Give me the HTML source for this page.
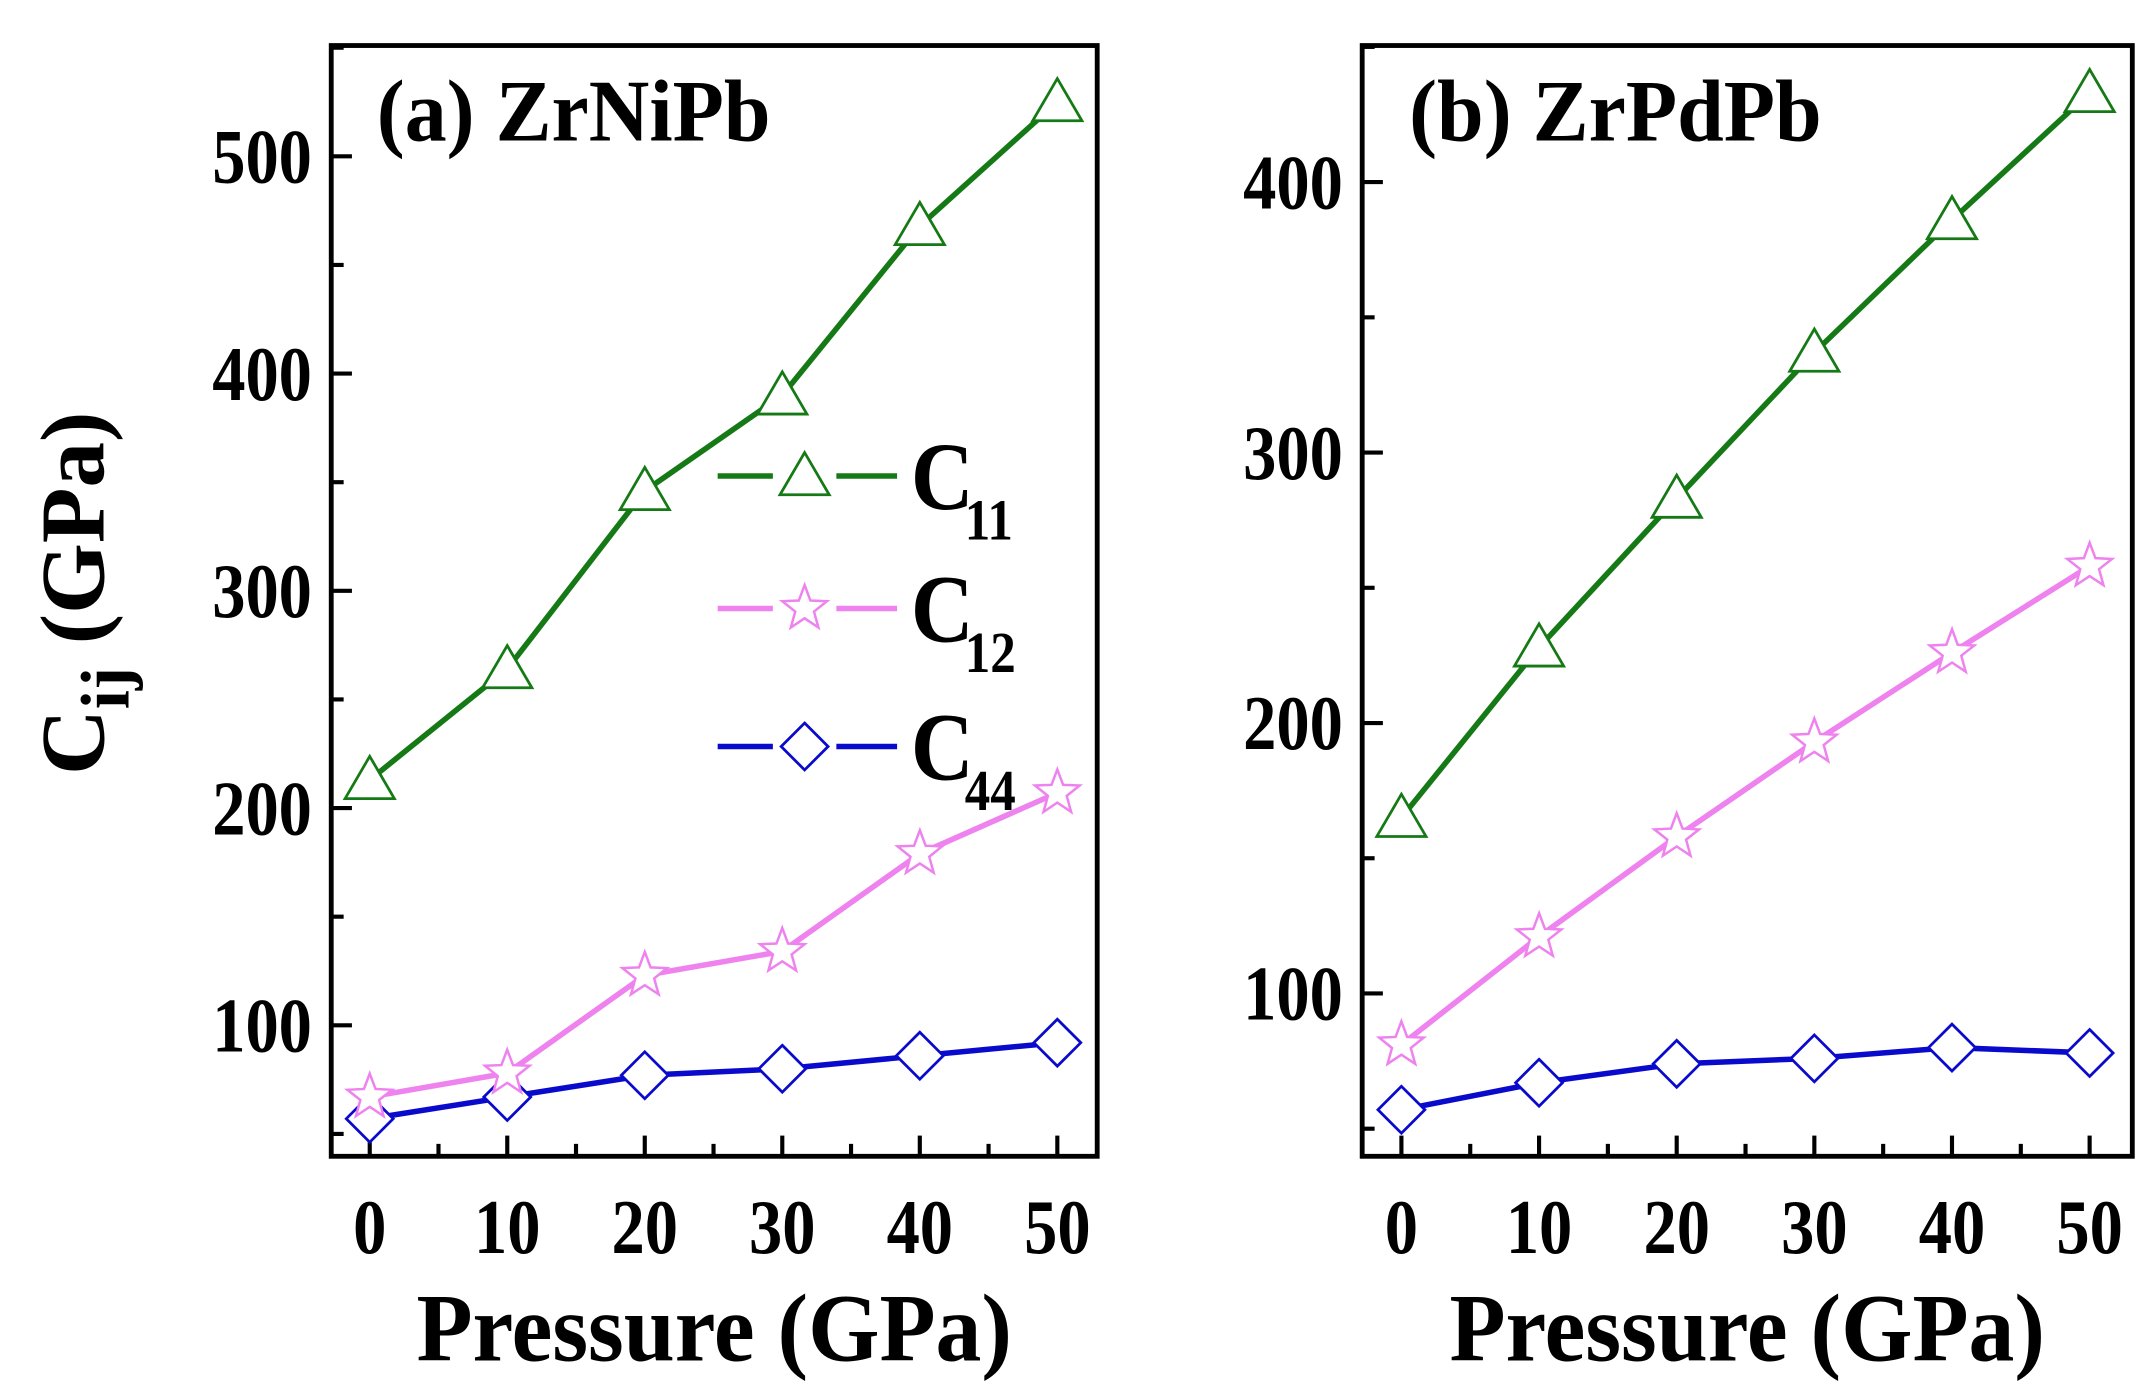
<!DOCTYPE html>
<html><head><meta charset="utf-8"><style>
html,body{margin:0;padding:0;background:#fff;}
svg{display:block;font-family:"Liberation Serif",serif;font-weight:bold;}
</style></head><body>
<svg id="chart" width="2153" height="1395" viewBox="0 0 1560 1011" preserveAspectRatio="none" xmlns="http://www.w3.org/2000/svg"></svg>
<script>
const pressures = [0, 10, 20, 30, 40, 50];
const aC11 = [213, 264, 346, 390, 468, 525];
const aC12 = [67, 78, 123, 134, 179, 207];
const aC44 = [57, 67, 77, 80, 86, 92];
const bC11 = [165, 228, 283, 337, 386, 433];
const bC12 = [81, 121, 158, 193, 226, 258];
const bC44 = [57, 67, 74, 76, 80, 78];
const xTicks = [0, 10, 20, 30, 40, 50];
const aYTicks = [100, 200, 300, 400, 500];
const bYTicks = [100, 200, 300, 400];

const NS = "http://www.w3.org/2000/svg";
const svg = document.getElementById('chart');
function mk(tag, attrs, parent, text) {
  const e = document.createElementNS(NS, tag);
  for (const k in attrs) e.setAttribute(k, attrs[k]);
  if (text !== undefined) e.textContent = text;
  (parent || svg).appendChild(e);
  return e;
}
function txt(x, y, size, sx, anchor, parent, s) {
  return mk('text', {x: 0, y: 0, 'font-size': size, 'text-anchor': anchor, transform: `translate(${x},${y}) scale(${sx},1)`}, parent, s);
}
const colors = {c11: '#157a15', c12: '#ee82ee', c44: '#0a0acc'};

function marker(type, cx, cy, color, parent) {
  const s = 17;
  let e;
  if (type === 'tri') {
    e = mk('polygon', {points: `${cx},${cy - s} ${cx - s * 1.05},${cy + s * 0.8} ${cx + s * 1.05},${cy + s * 0.8}`, fill: '#fff', stroke: color, 'stroke-width': 2}, parent);
  } else if (type === 'dia') {
    e = mk('polygon', {points: `${cx},${cy - s} ${cx + s},${cy} ${cx},${cy + s} ${cx - s},${cy}`, fill: '#fff', stroke: color, 'stroke-width': 2}, parent);
  } else {
    let pts = [];
    for (let i = 0; i < 10; i++) {
      const r = i % 2 ? s * 0.42 : s;
      const a = -Math.PI / 2 + i * Math.PI / 5;
      pts.push((cx + r * Math.cos(a)).toFixed(1) + ',' + (cy + r * Math.sin(a)).toFixed(1));
    }
    e = mk('polygon', {points: pts.join(' '), fill: '#fff', stroke: color, 'stroke-width': 1.8}, parent);
  }
  return e;
}

function panel(cfg) {
  const g = mk('g', {});
  
  
  const {L, R, T, B, xmin, xmax, ymin, ymax} = cfg;
  const sx = v => L + (v - xmin) / (xmax - xmin) * (R - L);
  const sy = v => B - (v - ymin) / (ymax - ymin) * (B - T);
  for (const t of xTicks) {
    const x = sx(t);
    const tk = mk('line', {x1: x, x2: x, y1: B, y2: B - 15, stroke: '#000', 'stroke-width': 3}, g);
    
    
    const lb = txt(x, B + 70, 56, 0.86, 'middle', g, String(t));
    
    
    if (t < 50) {
      const m = sx(t + 5);
      const mt = mk('line', {x1: m, x2: m, y1: B, y2: B - 9, stroke: '#000', 'stroke-width': 3}, g);
      
      
    }
  }
  for (let v = 50; v < ymax; v += 50) {
    if (v <= ymin) continue;
    const y = sy(v);
    const major = v % 100 === 0;
    const tk = mk('line', {x1: L, x2: L + (major ? 15 : 9), y1: y, y2: y, stroke: '#000', 'stroke-width': 3}, g);
    
    
  }
  for (const t of cfg.yTicks) {
    const lb = txt(L - 14, sy(t) + 19, 56, 0.86, 'end', g, String(t));
    
    
  }
  const series = [[cfg.c44, 'dia', colors.c44, 'c44'], [cfg.c12, 'star', colors.c12, 'c12'], [cfg.c11, 'tri', colors.c11, 'c11']];
  for (const [vals, type, col, nm] of series) {
    const pts = vals.map((v, i) => sx(pressures[i]).toFixed(1) + ',' + sy(v).toFixed(1)).join(' ');
    const ln = mk('polyline', {points: pts, fill: 'none', stroke: col, 'stroke-width': 4}, g);
    
    
    vals.forEach((v, i) => {
      const m = marker(type, sx(pressures[i]), sy(v), col, g);
      
      
    });
  }
  const fr = mk('rect', {x: L, y: T, width: R - L, height: B - T, fill: 'none', stroke: '#000', 'stroke-width': 3.5}, g);
  
  
  const ti = txt(cfg.titleX, 102, 64, 0.95, 'start', g, cfg.title);
  
  
  const xt = txt((L + R) / 2, 986, 70, 0.95, 'middle', g, 'Pressure (GPa)');
  
  
}

panel({name: 'panel-a-zrnipb', L: 240, R: 795, T: 33, B: 838, xmin: -2.8, xmax: 52.9, ymin: 39.7, ymax: 551, yTicks: aYTicks, c11: aC11, c12: aC12, c44: aC44, title: '(a) ZrNiPb', titleX: 273});
panel({name: 'panel-b-zrpdpb', L: 987, R: 1545, T: 33, B: 838, xmin: -2.85, xmax: 53.1, ymin: 39.8, ymax: 450.5, yTicks: bYTicks, c11: bC11, c12: bC12, c44: bC44, title: '(b) ZrPdPb', titleX: 1021});

const yt = mk('text', {x: 0, y: 0, 'font-size': 66, transform: 'translate(75,430) rotate(-90)', 'text-anchor': 'middle'});


mk('tspan', {}, yt, 'C');
mk('tspan', {'font-size': 50, dy: 18}, yt, 'ij');
mk('tspan', {dy: -18}, yt, ' (GPa)');

const lg = mk('g', {});


const legendItems = [['11', 'tri', colors.c11, 345], ['12', 'star', colors.c12, 441], ['44', 'dia', colors.c44, 541]];
for (const [sub, type, col, y] of legendItems) {
  const it = mk('g', {}, lg);
  
  
  mk('line', {x1: 520, x2: 560, y1: y, y2: y, stroke: col, 'stroke-width': 4}, it);
  mk('line', {x1: 606, x2: 650, y1: y, y2: y, stroke: col, 'stroke-width': 4}, it);
  marker(type, 583, y, col, it);
  txt(660, y + 24, 70, 0.9, 'start', it, 'C');
  txt(699, y + 46, 42, 0.88, 'start', it, sub);
}
</script>
</body></html>
